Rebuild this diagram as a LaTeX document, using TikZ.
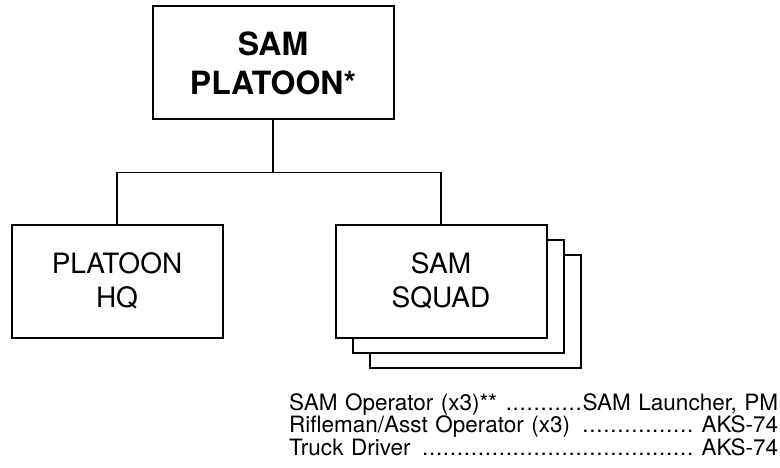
\documentclass[tikz,border=0pt]{standalone}
\usepackage{fontspec}
\setmainfont{TeX Gyre Heros}
\usetikzlibrary{positioning,shadows}
\newcommand\kitdots{\leavevmode\leaders\hbox to 0.31em{\hss.\hss}\hfill\kern0pt}

\begin{document}
\begin{tikzpicture}[
  x=1pt,y=1pt,
  unit/.style={draw,line width=2pt,align=center,minimum width=211pt,minimum height=113pt,
               font=\fontsize{28}{34}\selectfont,fill=white},
  hqunit/.style={unit,minimum width=241pt,font=\fontsize{32}{39}\selectfont\bfseries},
  kit/.style={inner sep=0pt,text width=489pt,font=\fontsize{22.5}{22.5}\selectfont},
  link/.style={line width=1.6pt}
]
\useasboundingbox (0,0) rectangle (780,467);
\node[hqunit] (plt) at (273,404) {SAM\\PLATOON*};
\node[unit] (hq) at (117,186) {PLATOON\\HQ};
\node[unit,right=111pt of hq,double copy shadow={shadow xshift=17pt,shadow yshift=-15pt}] (squad) {SAM\\SQUAD};
\draw[link] (plt.south) -- ++(0,-52) coordinate (split) -| (hq);
\draw[link] (split) -| (squad);
\node[kit,anchor=base west] (kita) at (289,57) {SAM Operator (x3)** \kitdots SAM Launcher, PM};
\node[kit,anchor=base west] (kitb) at ([yshift=-22.5pt]kita.base west) {Rifleman/Asst Operator (x3) \kitdots\ AKS-74};
\node[kit,anchor=base west] (kitc) at ([yshift=-22.5pt]kitb.base west) {Truck Driver \kitdots\ AKS-74};
\end{tikzpicture}
\end{document}
